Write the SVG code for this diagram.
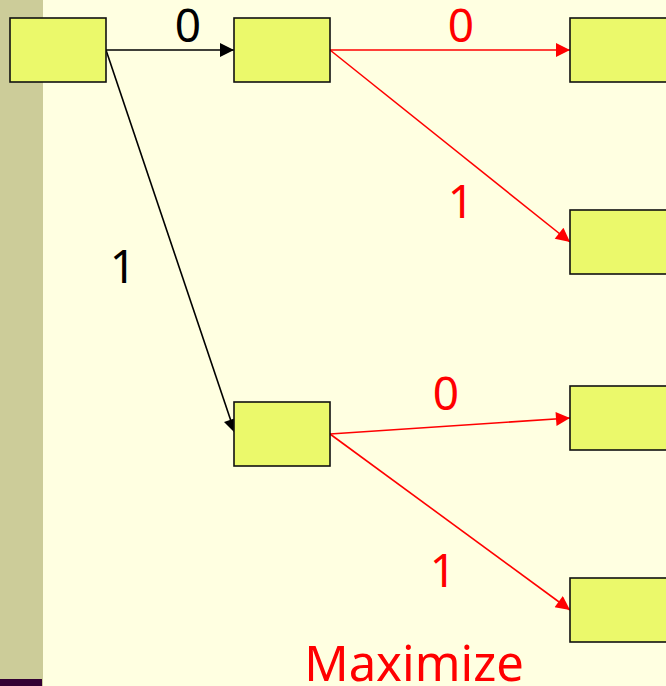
<svg xmlns="http://www.w3.org/2000/svg" width="666" height="686" viewBox="0 0 666 686">
  <style>
    .node rect { fill: #ebf96b; stroke: #111; stroke-width: 1.6; }
    .lbl { font-family: "Noto Sans", "Open Sans", sans-serif; font-size: 46px; text-anchor: middle; }
    .title { font-size: 49px; }
    .blk { fill: #000; }
    .red { fill: #ff0000; }
    .edge-b { stroke: #000; stroke-width: 1.6; fill: none; marker-end: url(#ahB); }
    .edge-r { stroke: #ff0000; stroke-width: 1.6; fill: none; marker-end: url(#ahR); }
  </style>
  <defs>
    <marker id="ahB" viewBox="0 0 10 10" refX="10" refY="5" markerUnits="userSpaceOnUse" markerWidth="16" markerHeight="14" orient="auto">
      <path d="M0,0 L10,5 L0,10 Z" fill="#000"/>
    </marker>
    <marker id="ahR" viewBox="0 0 10 10" refX="10" refY="5" markerUnits="userSpaceOnUse" markerWidth="16" markerHeight="14" orient="auto">
      <path d="M0,0 L10,5 L0,10 Z" fill="#ff0000"/>
    </marker>
  </defs>

  <!-- slide background and side band -->
  <rect x="0" y="0" width="666" height="686" fill="#ffffe1"/>
  <rect x="0" y="0" width="43" height="686" fill="#cccc99"/>
  <rect x="0" y="679" width="42" height="7" fill="#330033"/>

  <!-- connectors -->
  <g id="edges">
    <line class="edge-b" x1="106" y1="50" x2="234" y2="50"/>
    <line class="edge-b" x1="106" y1="50" x2="235" y2="433"/>
    <line class="edge-r" x1="330" y1="50" x2="570" y2="50"/>
    <line class="edge-r" x1="330" y1="50" x2="570" y2="242"/>
    <line class="edge-r" x1="330" y1="434" x2="570" y2="418"/>
    <line class="edge-r" x1="330" y1="434" x2="570" y2="610"/>
  </g>

  <!-- edge labels -->
  <g id="labels">
    <text class="lbl blk" x="188" y="42">0</text>
    <text class="lbl blk" x="123" y="283">1</text>
    <text class="lbl red" x="461" y="42">0</text>
    <text class="lbl red" x="461" y="218">1</text>
    <text class="lbl red" x="446" y="410">0</text>
    <text class="lbl red" x="443" y="587">1</text>
  </g>

  <!-- nodes -->
  <g id="root" class="node"><rect x="10" y="18" width="96" height="64"/></g>
  <g id="n0" class="node"><rect x="234" y="18" width="96" height="64"/></g>
  <g id="n1" class="node"><rect x="234" y="402" width="96" height="64"/></g>
  <g id="n00" class="node"><rect x="570" y="18" width="100" height="64"/></g>
  <g id="n01" class="node"><rect x="570" y="210" width="100" height="64"/></g>
  <g id="n10" class="node"><rect x="570" y="386" width="100" height="64"/></g>
  <g id="n11" class="node"><rect x="570" y="578" width="100" height="64"/></g>

  <text class="lbl title red" x="414" y="681">Maximize</text>
</svg>
